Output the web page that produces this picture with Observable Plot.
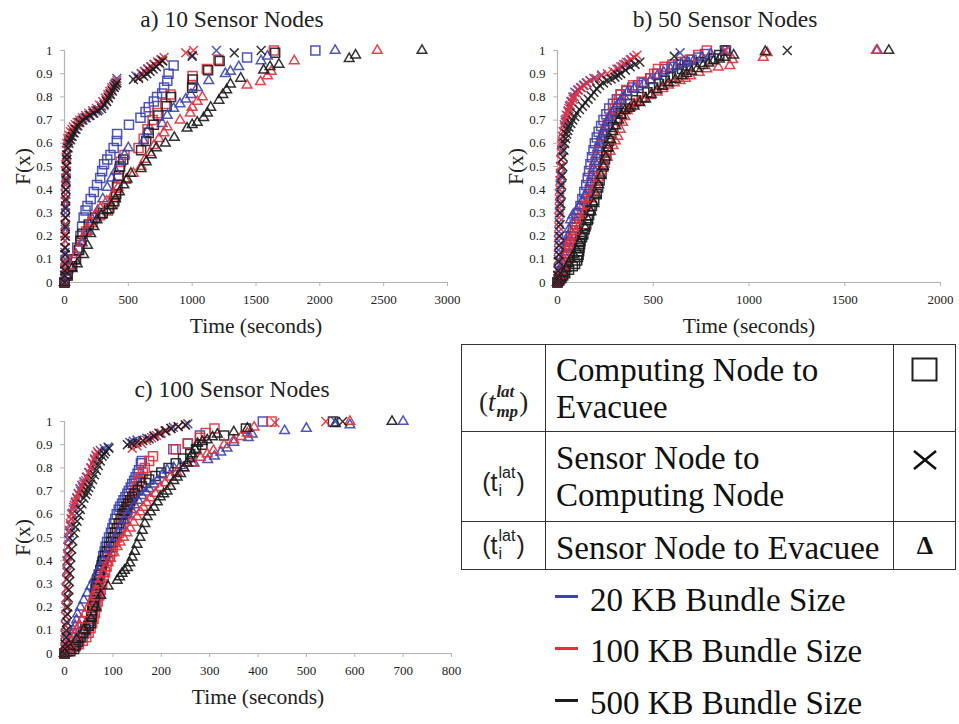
<!DOCTYPE html>
<html><head><meta charset="utf-8">
<script src="https://cdn.jsdelivr.net/npm/d3@7"></script>
<script src="https://cdn.jsdelivr.net/npm/@observablehq/plot@0.6"></script>
<style>
body{margin:0;background:#fff;}
#root{position:relative;width:959px;height:724px;overflow:hidden;font-family:"Liberation Serif",serif;color:#111;}
.panel{position:absolute;}
.panel svg{max-width:none;overflow:visible;display:block;}
.panel svg text{fill:#222;}
.abs{position:absolute;}
.hl{position:absolute;height:0;border-top:1.6px solid #333;}
.vl{position:absolute;width:0;border-left:1.6px solid #333;}
.cell{position:absolute;font:33px/37px "Liberation Serif",serif;color:#111;white-space:nowrap;}
.lab{position:absolute;left:461px;width:85px;display:flex;align-items:center;justify-content:center;color:#222;}
.ss{display:inline-flex;flex-direction:column;line-height:0.95;vertical-align:middle;margin:0 1px;}
.sw{position:absolute;left:555px;width:23px;height:3px;}
</style></head>
<body><div id="root"></div>
<script>
// ---------- data ----------
const sizeLabels = ["20 KB Bundle Size", "100 KB Bundle Size", "500 KB Bundle Size"];
const titles = ["a) 10 Sensor Nodes", "b) 50 Sensor Nodes", "c) 100 Sensor Nodes"];
const xTitle = "Time (seconds)";
const yTitle = "F(x)";
const yTicks = [0, 0.1, 0.2, 0.3, 0.4, 0.5, 0.6, 0.7, 0.8, 0.9, 1];
const yTickLabels = ["0", "0.1", "0.2", "0.3", "0.4", "0.5", "0.6", "0.7", "0.8", "0.9", "1"];
const aXTicks = [0, 500, 1000, 1500, 2000, 2500, 3000];
const aXTickLabels = ["0", "500", "1000", "1500", "2000", "2500", "3000"];
const bXTicks = [0, 500, 1000, 1500, 2000];
const bXTickLabels = ["0", "500", "1000", "1500", "2000"];
const cXTicks = [0, 100, 200, 300, 400, 500, 600, 700, 800];
const cXTickLabels = ["0", "100", "200", "300", "400", "500", "600", "700", "800"];

const metricNames = ["Computing Node to\nEvacuee", "Sensor Node to\nComputing Node", "Sensor Node to Evacuee"];

// Panel a: 10 sensor nodes  [time, F(x)]
const a_sq_20 = [[0,0],[10,0.03],[30,0.06],[60,0.1],[100,0.15],[125,0.2],[138,0.24],[150,0.28],[165,0.31],[180,0.33],[205,0.36],[230,0.39],[255,0.42],[280,0.45],[295,0.48],[310,0.51],[335,0.53],[360,0.55],[385,0.58],[410,0.61],[412,0.64],[505,0.68],[595,0.71],[635,0.735],[660,0.755],[700,0.78],[725,0.8],[765,0.815],[780,0.84],[805,0.87],[815,0.9],[855,0.935],[1430,0.97],[1965,1]];
const a_sq_100 = [[0,0],[20,0.03],[50,0.07],[80,0.1],[110,0.14],[130,0.18],[170,0.22],[220,0.26],[280,0.29],[340,0.31],[380,0.34],[400,0.37],[410,0.41],[420,0.45],[430,0.49],[440,0.52],[470,0.55],[580,0.58],[620,0.62],[650,0.66],[690,0.7],[725,0.73],[790,0.77],[830,0.81],[1000,0.85],[1003,0.89],[1115,0.92],[1205,0.96],[1640,1]];
const a_sq_500 = [[0,0],[25,0.03],[60,0.07],[90,0.1],[115,0.14],[125,0.18],[140,0.21],[190,0.25],[240,0.28],[300,0.3],[350,0.32],[390,0.35],[405,0.38],[415,0.42],[425,0.46],[435,0.5],[460,0.53],[600,0.57],[640,0.61],[660,0.645],[700,0.68],[735,0.72],[800,0.76],[835,0.8],[1000,0.84],[1005,0.875],[1125,0.915],[1215,0.955],[1650,0.99]];
const a_x_20 = [[0,0],[1,0.02],[2,0.05],[3,0.08],[4,0.1],[4,0.13],[5,0.15],[5,0.18],[6,0.2],[6,0.23],[7,0.25],[7,0.28],[8,0.3],[8,0.33],[9,0.35],[9,0.38],[10,0.4],[11,0.43],[12,0.45],[13,0.48],[14,0.5],[15,0.53],[16,0.55],[20,0.58],[30,0.61],[40,0.62],[50,0.63],[65,0.645],[80,0.66],[95,0.675],[110,0.69],[135,0.7],[160,0.71],[190,0.72],[220,0.73],[245,0.74],[270,0.745],[290,0.76],[310,0.77],[325,0.785],[340,0.8],[355,0.815],[370,0.83],[385,0.845],[400,0.86],[410,0.88],[560,0.89],[600,0.9],[625,0.91],[650,0.92],[675,0.93],[700,0.94],[730,0.95],[760,0.96],[1000,0.98],[1190,1]];
const a_x_100 = [[0,0],[1,0.03],[2,0.06],[2,0.09],[3,0.12],[3,0.15],[4,0.18],[4,0.21],[5,0.25],[5,0.28],[6,0.32],[6,0.35],[7,0.38],[8,0.42],[9,0.45],[10,0.48],[11,0.51],[12,0.54],[14,0.57],[18,0.6],[25,0.62],[35,0.635],[45,0.65],[58,0.66],[70,0.67],[85,0.68],[100,0.69],[120,0.7],[140,0.71],[165,0.72],[190,0.73],[220,0.74],[250,0.75],[275,0.765],[300,0.78],[320,0.795],[340,0.81],[355,0.825],[370,0.84],[390,0.855],[410,0.87],[580,0.885],[605,0.9],[630,0.91],[655,0.92],[680,0.93],[705,0.94],[730,0.95],[755,0.96],[780,0.97],[950,0.99],[1010,1]];
const a_x_500 = [[0,0],[2,0.03],[3,0.05],[4,0.08],[5,0.12],[5,0.15],[6,0.2],[7,0.24],[8,0.28],[9,0.32],[10,0.36],[11,0.4],[12,0.44],[14,0.47],[15,0.5],[18,0.53],[20,0.55],[28,0.58],[35,0.6],[48,0.615],[60,0.63],[75,0.645],[90,0.66],[105,0.675],[120,0.69],[145,0.7],[170,0.71],[200,0.72],[230,0.73],[260,0.74],[290,0.75],[310,0.765],[330,0.78],[345,0.795],[360,0.81],[375,0.825],[390,0.84],[400,0.85],[410,0.86],[540,0.875],[580,0.88],[620,0.89],[645,0.9],[670,0.91],[695,0.92],[720,0.93],[745,0.945],[770,0.955],[1000,0.975],[1330,0.99],[1540,1]];
const a_tri_20 = [[0,0],[20,0.03],[50,0.07],[90,0.12],[140,0.17],[180,0.22],[220,0.27],[260,0.31],[300,0.36],[335,0.41],[370,0.45],[400,0.48],[440,0.52],[470,0.55],[500,0.58],[620,0.61],[650,0.65],[765,0.685],[805,0.72],[855,0.75],[905,0.77],[950,0.79],[990,0.81],[1040,0.84],[1130,0.87],[1260,0.9],[1300,0.91],[1365,0.93],[1540,0.955],[1590,0.975],[2120,1]];
const a_tri_100 = [[0,0],[20,0.03],[50,0.07],[90,0.12],[130,0.17],[170,0.22],[200,0.26],[240,0.29],[280,0.32],[330,0.35],[380,0.38],[420,0.41],[480,0.44],[540,0.47],[600,0.5],[630,0.53],[670,0.56],[700,0.59],[740,0.62],[780,0.645],[805,0.67],[905,0.7],[985,0.73],[1000,0.755],[1040,0.78],[1080,0.8],[1430,0.85],[1535,0.865],[1590,0.89],[1620,0.91],[1800,0.955],[2450,1]];
const a_tri_500 = [[0,0],[20,0.03],[60,0.06],[100,0.08],[150,0.12],[180,0.16],[205,0.21],[230,0.24],[255,0.27],[290,0.29],[335,0.31],[370,0.33],[400,0.36],[430,0.39],[465,0.42],[490,0.445],[520,0.47],[600,0.49],[640,0.52],[680,0.55],[720,0.58],[790,0.6],[860,0.625],[960,0.665],[1000,0.68],[1040,0.69],[1090,0.71],[1120,0.73],[1145,0.755],[1210,0.785],[1240,0.81],[1270,0.83],[1300,0.855],[1380,0.88],[1560,0.915],[1610,0.93],[1680,0.94],[2230,0.965],[2280,0.98],[2800,1]];

// Panel b: 50 sensor nodes
const b_sq_20 = [[0,0],[5,0.01],[10,0.02],[18,0.035],[25,0.05],[32,0.075],[40,0.1],[48,0.125],[55,0.15],[62,0.175],[70,0.2],[80,0.225],[90,0.25],[100,0.275],[110,0.3],[120,0.33],[130,0.36],[140,0.39],[150,0.42],[158,0.45],[165,0.48],[172,0.51],[180,0.54],[188,0.57],[195,0.6],[205,0.625],[215,0.65],[228,0.675],[240,0.7],[255,0.725],[270,0.75],[290,0.77],[310,0.79],[330,0.81],[360,0.825],[390,0.84],[420,0.85],[450,0.86],[485,0.88],[520,0.9],[560,0.92],[595,0.93],[630,0.94],[665,0.95],[700,0.96],[735,0.97],[770,0.985],[880,1]];
const b_sq_100 = [[0,0],[8,0.01],[15,0.02],[22,0.035],[30,0.05],[38,0.075],[45,0.1],[52,0.125],[60,0.15],[70,0.175],[80,0.2],[90,0.225],[100,0.25],[115,0.275],[130,0.3],[140,0.325],[150,0.35],[160,0.375],[170,0.4],[178,0.43],[185,0.46],[192,0.49],[200,0.52],[210,0.55],[220,0.58],[230,0.605],[240,0.63],[250,0.655],[260,0.68],[275,0.705],[290,0.73],[300,0.75],[310,0.77],[320,0.79],[330,0.81],[360,0.83],[395,0.85],[440,0.865],[485,0.88],[505,0.9],[525,0.92],[560,0.93],[600,0.94],[645,0.95],[690,0.96],[735,0.98],[780,1]];
const b_sq_500 = [[0,0],[10,0.01],[20,0.02],[30,0.03],[40,0.04],[60,0.055],[80,0.07],[92,0.08],[103,0.095],[107,0.11],[110,0.12],[113,0.135],[115,0.15],[118,0.165],[120,0.18],[128,0.195],[135,0.21],[142,0.23],[150,0.25],[158,0.27],[165,0.29],[172,0.31],[180,0.33],[192,0.355],[205,0.38],[212,0.41],[220,0.44],[230,0.47],[240,0.5],[248,0.53],[255,0.56],[262,0.585],[270,0.61],[280,0.64],[290,0.67],[310,0.7],[330,0.73],[355,0.75],[380,0.77],[410,0.785],[440,0.8],[470,0.82],[500,0.84],[530,0.855],[560,0.87],[590,0.885],[625,0.9],[650,0.92],[680,0.935],[750,0.95],[815,0.965],[845,0.98],[875,1]];
const b_x_20 = [[0,0],[1,0.03],[3,0.06],[4,0.1],[5,0.14],[6,0.18],[7,0.22],[8,0.26],[9,0.3],[10,0.34],[12,0.38],[13,0.42],[15,0.46],[17,0.5],[19,0.53],[21,0.57],[24,0.6],[27,0.63],[30,0.65],[35,0.68],[40,0.7],[47,0.72],[55,0.74],[62,0.76],[70,0.78],[80,0.8],[90,0.82],[105,0.83],[120,0.84],[135,0.85],[150,0.86],[170,0.87],[190,0.88],[230,0.895],[300,0.905],[320,0.92],[340,0.93],[355,0.94],[370,0.95],[385,0.96],[400,0.97],[640,0.99],[870,1]];
const b_x_100 = [[0,0],[1,0.03],[2,0.05],[3,0.09],[4,0.12],[5,0.16],[6,0.2],[7,0.24],[8,0.28],[9,0.32],[10,0.36],[12,0.4],[13,0.44],[15,0.47],[16,0.5],[18,0.53],[20,0.56],[22,0.59],[25,0.61],[28,0.63],[32,0.65],[36,0.67],[40,0.69],[45,0.705],[50,0.72],[55,0.735],[60,0.75],[68,0.765],[75,0.78],[82,0.79],[90,0.8],[100,0.815],[110,0.83],[125,0.84],[140,0.85],[155,0.86],[170,0.87],[200,0.88],[230,0.89],[260,0.9],[290,0.91],[310,0.92],[330,0.93],[345,0.94],[360,0.95],[380,0.96],[400,0.97],[415,0.98],[880,1]];
const b_x_500 = [[0,0],[2,0.03],[4,0.05],[6,0.09],[8,0.12],[10,0.16],[12,0.2],[14,0.25],[16,0.3],[18,0.34],[20,0.38],[22,0.42],[25,0.46],[28,0.5],[30,0.54],[34,0.57],[38,0.6],[43,0.62],[48,0.64],[54,0.655],[60,0.67],[70,0.685],[80,0.7],[90,0.715],[100,0.73],[115,0.745],[130,0.76],[145,0.775],[160,0.79],[175,0.805],[190,0.82],[205,0.835],[220,0.85],[240,0.86],[260,0.87],[280,0.877],[300,0.885],[315,0.893],[330,0.9],[355,0.915],[380,0.93],[405,0.94],[430,0.95],[610,0.975],[1200,1]];
const b_tri_20 = [[0,0],[8,0.01],[15,0.03],[22,0.055],[30,0.08],[38,0.115],[45,0.15],[50,0.175],[55,0.2],[60,0.23],[68,0.27],[80,0.29],[100,0.31],[115,0.33],[130,0.35],[145,0.375],[160,0.4],[170,0.43],[180,0.46],[188,0.49],[195,0.52],[202,0.55],[210,0.58],[220,0.605],[230,0.63],[240,0.65],[250,0.67],[260,0.69],[270,0.71],[285,0.73],[300,0.75],[315,0.77],[330,0.785],[348,0.8],[365,0.82],[400,0.835],[450,0.855],[485,0.87],[520,0.89],[555,0.905],[590,0.92],[620,0.93],[650,0.94],[680,0.948],[710,0.955],[755,0.97],[800,0.985],[1670,1]];
const b_tri_100 = [[0,0],[8,0.01],[15,0.03],[22,0.05],[30,0.07],[38,0.095],[45,0.12],[52,0.145],[60,0.17],[70,0.185],[80,0.2],[95,0.22],[110,0.24],[125,0.27],[140,0.3],[155,0.33],[170,0.36],[185,0.39],[200,0.42],[215,0.45],[230,0.48],[245,0.51],[260,0.54],[275,0.565],[290,0.59],[302,0.61],[315,0.63],[328,0.66],[340,0.69],[352,0.715],[365,0.74],[382,0.755],[400,0.77],[425,0.78],[450,0.79],[485,0.805],[520,0.82],[550,0.835],[580,0.85],[610,0.86],[640,0.87],[668,0.88],[695,0.89],[740,0.905],[780,0.92],[840,0.928],[900,0.935],[915,0.96],[1075,0.97],[1095,0.99],[1665,1]];
const b_tri_500 = [[0,0],[10,0.01],[20,0.02],[32,0.04],[45,0.06],[58,0.08],[70,0.1],[85,0.12],[100,0.14],[115,0.17],[130,0.2],[145,0.235],[160,0.27],[175,0.305],[190,0.34],[202,0.38],[215,0.42],[228,0.46],[240,0.5],[252,0.54],[265,0.58],[278,0.615],[290,0.65],[305,0.675],[320,0.7],[335,0.72],[350,0.74],[375,0.75],[400,0.76],[430,0.775],[460,0.79],[490,0.81],[520,0.83],[550,0.845],[580,0.86],[615,0.875],[650,0.89],[675,0.9],[700,0.91],[730,0.922],[760,0.935],[790,0.945],[815,0.955],[845,0.963],[870,0.97],[920,0.98],[1085,0.995],[1730,1]];

// Panel c: 100 sensor nodes
const c_sq_20 = [[0,0],[5,0.01],[10,0.02],[18,0.03],[25,0.04],[30,0.055],[35,0.07],[40,0.085],[45,0.1],[49,0.12],[52,0.14],[55,0.16],[58,0.18],[61,0.2],[63,0.22],[66,0.245],[68,0.27],[70,0.295],[72,0.32],[74,0.345],[76,0.37],[78,0.395],[80,0.42],[83,0.44],[85,0.46],[88,0.48],[92,0.5],[96,0.52],[99,0.54],[102,0.56],[105,0.58],[108,0.6],[112,0.62],[115,0.632],[119,0.645],[122,0.66],[126,0.675],[130,0.688],[133,0.7],[137,0.715],[140,0.73],[144,0.745],[147,0.76],[151,0.775],[154,0.79],[158,0.82],[160,0.83],[225,0.88],[255,0.905],[280,0.94],[410,1]];
const c_sq_100 = [[0,0],[8,0.01],[15,0.02],[22,0.03],[30,0.04],[38,0.055],[45,0.07],[50,0.09],[54,0.11],[57,0.13],[60,0.15],[63,0.175],[66,0.2],[69,0.225],[72,0.25],[75,0.275],[78,0.3],[81,0.325],[84,0.35],[87,0.375],[90,0.4],[94,0.42],[97,0.44],[100,0.46],[104,0.48],[108,0.5],[112,0.52],[116,0.54],[120,0.56],[124,0.58],[128,0.6],[131,0.62],[135,0.64],[138,0.66],[142,0.68],[146,0.7],[150,0.72],[154,0.74],[158,0.76],[162,0.78],[166,0.8],[175,0.83],[183,0.85],[230,0.88],[255,0.905],[280,0.93],[292,0.95],[310,0.97],[428,1]];
const c_sq_500 = [[0,0],[12,0.01],[20,0.02],[23,0.035],[28,0.05],[33,0.07],[38,0.09],[43,0.105],[50,0.12],[54,0.13],[56,0.16],[57,0.185],[59,0.205],[61,0.23],[63,0.255],[64,0.28],[66,0.3],[68,0.32],[71,0.34],[74,0.36],[77,0.38],[80,0.4],[84,0.42],[88,0.44],[92,0.46],[96,0.48],[100,0.5],[104,0.52],[108,0.54],[112,0.56],[116,0.58],[120,0.6],[124,0.615],[128,0.63],[131,0.645],[135,0.66],[140,0.675],[145,0.69],[152,0.705],[160,0.72],[168,0.735],[175,0.75],[188,0.765],[200,0.78],[215,0.8],[230,0.82],[245,0.84],[260,0.86],[272,0.88],[285,0.9],[330,0.94],[375,0.97],[555,1]];
const c_x_20 = [[0,0],[1,0.04],[1,0.08],[2,0.12],[2,0.16],[3,0.2],[3,0.24],[4,0.28],[4,0.32],[5,0.36],[5,0.4],[6,0.43],[7,0.46],[8,0.49],[10,0.52],[12,0.55],[14,0.58],[16,0.605],[19,0.63],[22,0.65],[25,0.67],[28,0.69],[32,0.71],[36,0.725],[40,0.74],[45,0.76],[50,0.78],[54,0.8],[58,0.82],[62,0.835],[66,0.85],[70,0.863],[74,0.875],[82,0.883],[90,0.89],[135,0.91],[142,0.915],[150,0.92],[170,0.928],[185,0.935],[198,0.948],[210,0.96],[225,0.975],[255,0.99],[560,1]];
const c_x_100 = [[0,0],[1,0.03],[1,0.06],[2,0.09],[2,0.12],[3,0.16],[3,0.2],[4,0.24],[4,0.28],[5,0.32],[5,0.35],[6,0.39],[7,0.42],[8,0.46],[9,0.5],[10,0.53],[12,0.56],[14,0.58],[15,0.6],[18,0.62],[20,0.64],[23,0.655],[26,0.67],[30,0.685],[33,0.7],[37,0.715],[40,0.73],[44,0.745],[47,0.76],[51,0.78],[55,0.8],[58,0.82],[62,0.84],[65,0.855],[68,0.87],[140,0.885],[150,0.895],[160,0.905],[170,0.918],[180,0.93],[190,0.94],[200,0.95],[210,0.96],[220,0.97],[235,0.978],[250,0.985],[435,0.995],[540,1]];
const c_x_500 = [[0,0],[1,0.02],[2,0.04],[3,0.07],[4,0.1],[5,0.135],[6,0.17],[7,0.2],[8,0.24],[9,0.275],[10,0.31],[11,0.345],[12,0.38],[13,0.415],[15,0.45],[17,0.485],[20,0.52],[23,0.545],[26,0.57],[30,0.595],[33,0.62],[36,0.645],[40,0.67],[44,0.685],[47,0.7],[50,0.715],[54,0.73],[58,0.75],[62,0.77],[66,0.79],[70,0.81],[74,0.83],[78,0.85],[82,0.86],[85,0.87],[92,0.885],[130,0.9],[140,0.905],[150,0.91],[162,0.918],[175,0.925],[185,0.938],[195,0.95],[208,0.96],[220,0.97],[235,0.978],[250,0.985],[575,1]];
const c_tri_20 = [[0,0],[5,0.02],[8,0.04],[12,0.06],[15,0.08],[18,0.1],[22,0.12],[25,0.145],[27,0.17],[33,0.2],[40,0.23],[47,0.26],[54,0.29],[61,0.32],[68,0.35],[74,0.375],[80,0.4],[86,0.425],[92,0.45],[98,0.475],[105,0.5],[112,0.525],[118,0.55],[124,0.575],[130,0.6],[138,0.62],[145,0.64],[152,0.66],[160,0.68],[168,0.695],[175,0.71],[184,0.73],[192,0.745],[202,0.77],[212,0.79],[226,0.8],[240,0.81],[268,0.82],[296,0.835],[310,0.85],[323,0.868],[336,0.885],[350,0.91],[380,0.93],[388,0.945],[455,0.96],[500,0.97],[590,0.985],[700,1]];
const c_tri_100 = [[0,0],[5,0.02],[10,0.04],[15,0.06],[20,0.08],[25,0.1],[30,0.12],[36,0.145],[42,0.17],[48,0.195],[55,0.22],[60,0.245],[65,0.27],[70,0.295],[75,0.32],[80,0.345],[85,0.37],[90,0.39],[95,0.41],[102,0.435],[109,0.46],[115,0.48],[122,0.5],[129,0.52],[136,0.54],[143,0.565],[150,0.59],[157,0.61],[163,0.63],[170,0.65],[178,0.67],[188,0.69],[198,0.715],[208,0.735],[219,0.76],[232,0.78],[246,0.8],[264,0.82],[281,0.845],[295,0.86],[308,0.875],[330,0.9],[350,0.92],[365,0.935],[378,0.95],[392,0.975],[590,1]];
const c_tri_500 = [[0,0],[10,0.03],[25,0.06],[40,0.1],[55,0.15],[65,0.2],[75,0.25],[90,0.29],[109,0.315],[114,0.33],[119,0.345],[124,0.358],[130,0.37],[135,0.39],[140,0.415],[145,0.44],[150,0.47],[156,0.5],[161,0.53],[166,0.56],[171,0.59],[178,0.61],[185,0.63],[192,0.653],[198,0.675],[205,0.688],[212,0.7],[219,0.72],[226,0.745],[233,0.76],[240,0.775],[247,0.8],[254,0.82],[259,0.84],[264,0.86],[270,0.88],[275,0.905],[285,0.913],[295,0.92],[306,0.933],[316,0.945],[350,0.955],[378,0.97],[560,0.99],[677,1]];

// ---------- styles ----------
const seriesColors = ["#3b44b2", "#e3303a", "#1c1c1c"];
const axisGray = "#b4b4b4";

function rows(sq, xs, tri) {
  const out = [];
  [[sq, "sq"], [tri, "tri"], [xs, "x"]].forEach(([arr, m]) => {
    arr.forEach((pts, i) => pts.forEach(([t, f]) => out.push({t, f, size: sizeLabels[i], metric: m})));
  });
  return out;
}

function panel(cfg) {
  const data = rows(cfg.sq, cfg.xs, cfg.tri);
  const fmt = (ticks, labels) => d => labels[ticks.indexOf(d)];
  const dotOpts = (symbol, r, sw) => ({x: "t", y: "f", stroke: "size", symbol, r, fill: "none", strokeWidth: sw, strokeOpacity: 0.9});
  const svg = Plot.plot({
    width: cfg.width, height: cfg.height,
    marginLeft: cfg.ml, marginRight: cfg.mr, marginTop: cfg.mt, marginBottom: cfg.mb,
    x: {domain: [0, cfg.xMax], ticks: cfg.xTicks, tickFormat: fmt(cfg.xTicks, cfg.xLabels), tickSize: 4, tickPadding: 8, label: null},
    y: {domain: [0, 1], ticks: yTicks, tickFormat: fmt(yTicks, yTickLabels), tickSize: 4, tickPadding: 8, label: null},
    color: {domain: sizeLabels, range: seriesColors},
    style: {fontFamily: "Liberation Serif", fontSize: "13px", color: axisGray, background: "transparent", overflow: "visible"},
    marks: [
      Plot.ruleY([0], {stroke: axisGray, strokeWidth: 1.2}),
      Plot.ruleX([0], {stroke: axisGray, strokeWidth: 1.2}),
      Plot.dot(data.filter(d => d.metric === "sq"), dotOpts("square", 5.1, 1.5)),
      Plot.dot(data.filter(d => d.metric === "tri"), dotOpts("triangle", 3.6, 1.5)),
      Plot.dot(data.filter(d => d.metric === "x"), dotOpts("times", 4.1, 1.5)),
      Plot.text([cfg.title], {text: d => d, frameAnchor: "top", textAnchor: "middle", lineAnchor: "bottom", dx: cfg.titleDx, dy: cfg.titleDy, fontSize: 23.5, fill: "#111"}),
      Plot.text([xTitle], {text: d => d, frameAnchor: "bottom", textAnchor: "middle", lineAnchor: "bottom", dy: 50, fontSize: 21.5, fill: "#111"}),
      Plot.text([yTitle], {text: d => d, frameAnchor: "left", textAnchor: "middle", lineAnchor: "bottom", rotate: -90, dx: -35, fontSize: 21.5, fill: "#111"})
    ]
  });
  const div = document.createElement("div");
  div.className = "panel";
  div.style.left = cfg.left + "px";
  div.style.top = cfg.top + "px";
  div.style.width = cfg.width + "px";
  div.appendChild(svg);
  return div;
}

const root = document.getElementById("root");
root.appendChild(panel({title: titles[0], xMax: 3000, xTicks: aXTicks, xLabels: aXTickLabels,
  sq: [a_sq_20, a_sq_100, a_sq_500], xs: [a_x_20, a_x_100, a_x_500], tri: [a_tri_20, a_tri_100, a_tri_500],
  left: 0, top: 0, width: 470, height: 345, ml: 64, mr: 23, mt: 50, mb: 63, titleDx: -24, titleDy: -24}));
root.appendChild(panel({title: titles[1], xMax: 2000, xTicks: bXTicks, xLabels: bXTickLabels,
  sq: [b_sq_20, b_sq_100, b_sq_500], xs: [b_x_20, b_x_100, b_x_500], tri: [b_tri_20, b_tri_100, b_tri_500],
  left: 480, top: 0, width: 479, height: 345, ml: 77, mr: 19, mt: 50, mb: 63, titleDx: -24, titleDy: -24}));
root.appendChild(panel({title: titles[2], xMax: 800, xTicks: cXTicks, xLabels: cXTickLabels,
  sq: [c_sq_20, c_sq_100, c_sq_500], xs: [c_x_20, c_x_100, c_x_500], tri: [c_tri_20, c_tri_100, c_tri_500],
  left: 0, top: 360, width: 470, height: 364, ml: 64, mr: 19, mt: 61, mb: 71, titleDx: -26, titleDy: -25}));

// ---------- legend table ----------
const leg = document.createElement("div");
leg.innerHTML = `
  <div class="abs" style="left:461px;top:344px;width:495px;height:226px;border:1.8px solid #333;box-sizing:border-box;"></div>
  <div class="hl" style="left:461px;top:431px;width:495px;"></div>
  <div class="hl" style="left:461px;top:521px;width:495px;"></div>
  <div class="vl" style="left:545px;top:344px;height:226px;"></div>
  <div class="vl" style="left:893px;top:344px;height:226px;"></div>
  <div class="cell" style="left:556px;top:352px;">${metricNames[0].replace("\n", "<br>")}</div>
  <div class="cell" style="left:556px;top:440px;">${metricNames[1].replace("\n", "<br>")}</div>
  <div class="cell" style="left:556px;top:530px;">${metricNames[2]}</div>
  <div class="lab" style="top:380px;height:44px;font:27px 'Liberation Serif',serif;">(<i>t</i><span class="ss" style="font:italic bold 17px 'Liberation Serif',serif;"><span>lat</span><span>mp</span></span>)</div>
  <div class="lab" style="top:460px;height:44px;font:25px 'Liberation Sans',sans-serif;">(t<span class="ss" style="font:16px 'Liberation Sans',sans-serif;"><span>lat</span><span>i</span></span>)</div>
  <div class="lab" style="top:523px;height:44px;font:25px 'Liberation Sans',sans-serif;">(t<span class="ss" style="font:16px 'Liberation Sans',sans-serif;"><span>lat</span><span>i</span></span>)</div>
  <svg class="abs" style="left:905px;top:350px;" width="40" height="130">
    <rect x="7.5" y="8.5" width="24" height="22" fill="none" stroke="#222" stroke-width="2"/>
    <path d="M9,101 L31,119 M9,119 L31,101" stroke="#111" stroke-width="2.6" fill="none"/>
  </svg>
  <div class="abs" style="left:895px;width:60px;top:531px;text-align:center;font:bold 26px 'Liberation Serif',serif;line-height:30px;">Δ</div>
  <div class="sw" style="top:595px;background:${seriesColors[0]};"></div>
  <div class="sw" style="top:647px;background:${seriesColors[1]};"></div>
  <div class="sw" style="top:699px;background:${seriesColors[2]};"></div>
  <div class="cell" style="left:590px;top:582px;">${sizeLabels[0]}</div>
  <div class="cell" style="left:590px;top:633px;">${sizeLabels[1]}</div>
  <div class="cell" style="left:590px;top:685px;">${sizeLabels[2]}</div>
`;
root.appendChild(leg);
</script></body></html>
